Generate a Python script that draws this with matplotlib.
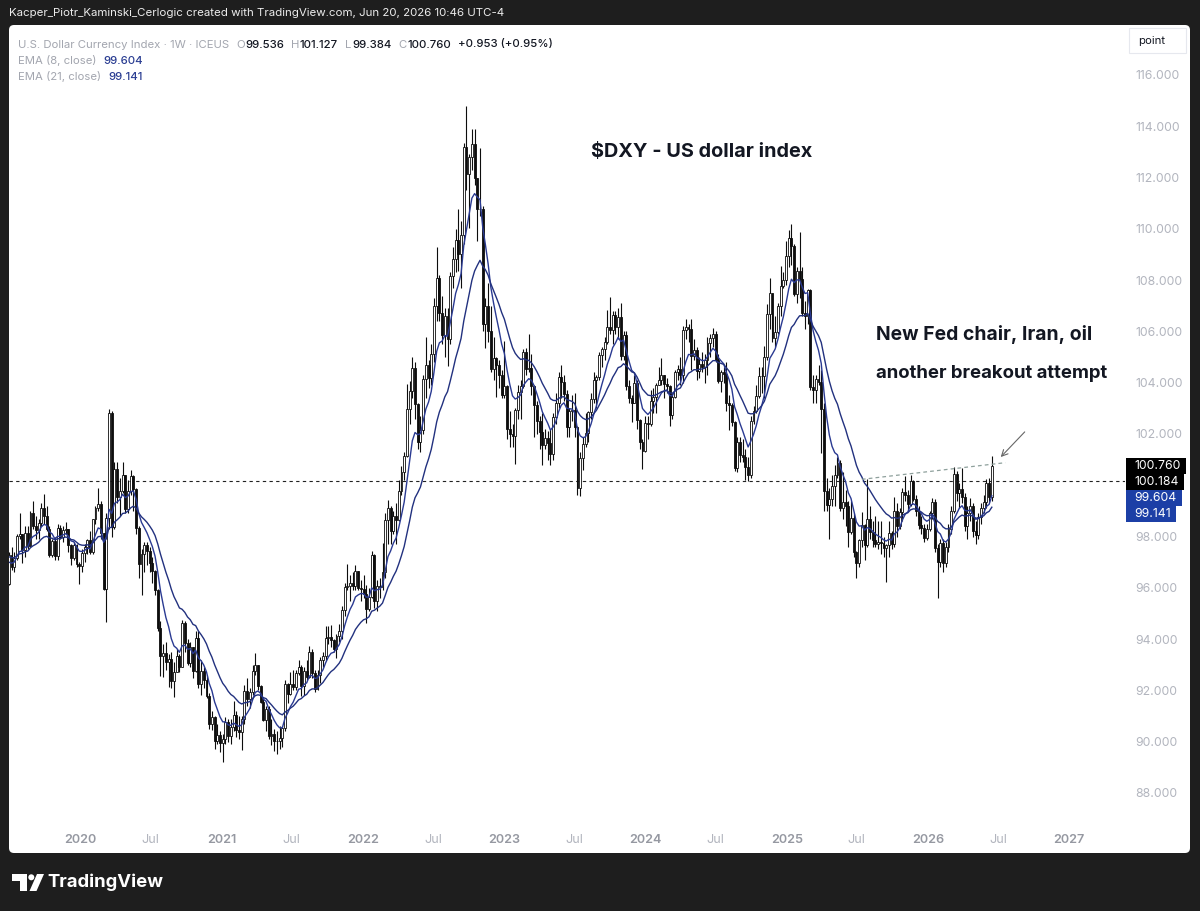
import matplotlib
matplotlib.use("Agg")
import matplotlib.pyplot as plt
import matplotlib.dates as mdates
from matplotlib.patches import FancyBboxPatch, Polygon, Circle, Rectangle
import numpy as np
import pandas as pd

FONT = ['Inter', 'DejaVu Sans']
plt.rcParams['font.family'] = FONT

# ------------------------------------------------------------------ data
first_week = "2019-04-01"   # weekly bars (Mondays), first bars lie left of the view

opens = [
    # 2019 (Apr-Jun, off-screen)
    97.27, 97.37, 96.98, 97.40, 98.01, 97.49, 97.33, 98.00, 97.62, 97.75, 96.53, 97.57, 96.20,
    # 2019 H2
    96.13, 97.29, 96.80, 97.15, 98.02, 98.09, 97.47, 98.13, 97.63, 98.92, 98.40, 98.27, 98.52, 99.12,
    98.81, 98.30, 97.29, 97.83, 97.23, 98.35, 97.99, 98.27, 98.28, 97.67, 97.18, 97.68, 96.92,
    # 2020
    96.84, 97.36, 97.61, 97.87, 97.39, 98.68, 99.12, 99.25, 98.13, 95.97, 98.73, 102.82, 98.37,
    100.65, 99.53, 99.77, 100.38, 99.06, 99.78, 100.37, 99.85, 98.34, 96.94, 97.33, 97.67, 97.43,
    96.97, 96.64, 95.92, 94.44, 93.35, 93.44, 93.09, 93.24, 92.37, 92.73, 93.33, 92.93, 94.64,
    93.84, 93.06, 93.69, 92.77, 94.03, 92.23, 92.75, 92.39, 91.79, 90.70, 90.98, 90.02, 90.24,
    # 2021
    89.94, 90.10, 90.77, 90.23, 90.58, 91.03, 90.44, 90.37, 90.88, 91.98, 91.67, 91.92, 92.77,
    92.98, 92.16, 91.56, 90.86, 91.28, 90.23, 90.31, 90.03, 90.04, 90.13, 90.55, 92.23, 91.85,
    92.23, 92.13, 92.68, 92.92, 92.18, 92.77, 92.52, 93.50, 92.66, 92.05, 92.58, 93.20, 93.33,
    94.04, 94.09, 93.96, 93.62, 94.12, 94.32, 95.13, 96.03, 96.08, 96.18, 96.07, 96.64, 96.00,
    # 2022
    95.97, 95.74, 95.17, 95.64, 97.27, 95.49, 96.07, 96.04, 96.61, 98.66, 99.13, 98.23, 98.79,
    98.64, 99.79, 100.50, 101.15, 102.96, 103.66, 104.56, 103.18, 101.67, 102.15, 104.15, 104.68,
    104.19, 105.13, 107.01, 108.07, 106.73, 105.85, 106.61, 105.69, 108.15, 108.82, 109.58, 109.00,
    109.76, 113.19, 112.12, 112.80, 113.31, 111.99, 110.77, 110.78, 106.29, 106.98, 106.03, 104.52,
    104.98, 104.69, 104.30,
    # 2023
    103.52, 103.88, 102.20, 101.99, 101.93, 102.92, 103.63, 103.87, 105.21, 104.52, 104.58, 103.86,
    103.12, 102.51, 102.09, 101.55, 101.83, 101.66, 101.22, 102.68, 103.20, 104.21, 104.03, 103.55,
    102.27, 102.91, 102.92, 102.27, 99.91, 101.07, 101.61, 102.02, 102.85, 103.38, 104.09, 104.24,
    105.07, 105.32, 105.58, 106.17, 106.04, 106.63, 106.16, 106.56, 105.03, 105.86, 103.87, 103.40,
    103.21, 104.00, 102.56, 101.70,
    # 2024
    101.33, 102.41, 102.40, 103.29, 103.43, 103.92, 104.12, 104.29, 103.94, 103.86, 102.73, 103.44,
    104.43, 104.55, 104.30, 106.04, 106.16, 106.09, 105.03, 105.29, 104.46, 104.73, 104.63, 104.89,
    105.54, 105.76, 105.90, 104.87, 104.08, 104.40, 104.32, 103.21, 103.14, 102.45, 100.68, 101.70,
    101.18, 101.11, 100.72, 100.38, 102.52, 102.90, 103.49, 104.26, 104.28, 104.99, 106.68, 107.50,
    105.74, 105.99, 106.99, 107.79, 108.00,
    # 2025
    108.93, 109.65, 109.35, 107.44, 108.37, 108.04, 106.71, 106.62, 107.61, 103.84, 103.72, 104.14,
    104.04, 102.98, 99.79, 99.23, 99.47, 99.97, 100.41, 100.88, 99.11, 99.33, 99.19, 98.18, 98.71,
    97.40, 96.97, 97.85, 98.46, 97.65, 98.69, 98.18, 97.85, 97.72, 97.77, 97.75, 97.55, 97.65,
    98.15, 97.72, 98.98, 98.40, 98.94, 99.75, 99.60, 99.28, 100.17, 99.45, 98.98, 98.45, 98.35, 97.95,
    # 2026
    98.30, 98.90, 99.35, 97.55, 97.00, 97.75, 96.95, 97.60, 98.30, 99.00, 100.45, 99.70, 99.85,
    99.55, 98.40, 98.90, 99.20, 98.20, 98.05, 98.75, 99.10, 99.35, 100.10, 99.536,
]

highs = [
    97.50, 97.50, 97.60, 98.32, 98.20, 97.80, 98.10, 98.37, 98.10, 97.90, 97.60, 97.70, 96.60,
    97.40, 97.58, 97.40, 98.10, 98.93, 98.10, 98.40, 98.40, 99.00, 99.37, 98.80, 98.70, 99.30, 99.67,
    99.20, 98.40, 97.90, 98.00, 98.50, 98.45, 98.40, 98.55, 98.30, 97.70, 97.80, 97.70, 97.00,
    97.50, 97.70, 97.90, 98.20, 98.70, 99.20, 99.91, 99.40, 98.15, 98.90, 102.99, 102.90, 100.90,
    100.90, 100.30, 100.90, 100.40, 100.20, 100.60, 100.40, 99.90, 98.40, 97.50, 97.80, 97.80, 97.60,
    97.20, 96.70, 95.95, 94.70, 93.80, 93.90, 93.40, 93.50, 93.10, 93.60, 93.40, 94.74, 94.70,
    94.00, 93.90, 93.70, 94.30, 94.30, 93.20, 92.90, 92.60, 91.90, 91.20, 91.00, 90.70, 90.40,
    90.30, 90.95, 90.90, 90.90, 91.60, 91.20, 91.00, 91.00, 92.20, 92.50, 92.10, 93.00, 93.44,
    93.00, 92.20, 91.70, 91.40, 91.40, 90.90, 90.50, 90.40, 90.60, 90.60, 92.40, 92.30, 92.70,
    92.80, 92.80, 93.20, 93.00, 92.90, 93.20, 93.73, 93.60, 92.80, 92.80, 93.30, 93.50, 94.50,
    94.50, 94.56, 94.00, 94.20, 94.60, 95.30, 96.20, 96.94, 96.50, 96.60, 96.90, 96.65, 96.30,
    96.50, 96.10, 96.00, 97.44, 97.30, 96.30, 96.40, 97.74, 98.90, 99.42, 99.20, 99.00, 99.30,
    100.20, 100.76, 101.30, 103.93, 104.07, 105.01, 104.80, 103.20, 102.70, 104.30, 105.79, 104.90,
    105.50, 107.30, 109.29, 108.20, 107.40, 106.90, 106.90, 108.30, 109.30, 110.00, 110.79, 110.30,
    113.33, 114.78, 112.90, 113.90, 113.90, 112.00, 113.15, 110.90, 107.30, 107.90, 107.00, 105.80,
    105.00, 104.90, 104.50,
    105.63, 103.90, 102.90, 102.40, 103.00, 103.90, 104.10, 105.30, 105.36, 105.88, 105.10, 103.90,
    103.30, 102.70, 102.80, 102.20, 102.10, 102.20, 102.80, 103.60, 104.40, 104.70, 104.30, 103.70,
    103.00, 103.50, 103.60, 102.30, 101.30, 101.90, 102.80, 102.90, 103.60, 104.40, 104.30, 105.20,
    105.40, 105.80, 106.84, 107.35, 106.80, 106.80, 106.90, 107.10, 106.00, 106.00, 104.10, 103.50,
    104.30, 104.10, 102.60, 101.80,
    102.70, 102.70, 103.70, 103.80, 104.00, 104.60, 104.97, 104.30, 104.20, 103.90, 103.60, 104.50,
    104.70, 105.00, 106.20, 106.50, 106.30, 106.50, 105.70, 105.40, 105.00, 105.20, 105.10, 105.80,
    105.90, 106.13, 106.00, 105.10, 104.50, 104.60, 104.80, 103.50, 103.20, 102.50, 101.90, 101.90,
    101.80, 101.40, 101.10, 102.70, 103.10, 103.90, 104.60, 104.60, 105.44, 107.07, 108.07, 107.50,
    106.60, 107.10, 108.54, 108.30, 109.54,
    109.97, 110.18, 109.40, 108.50, 109.88, 108.50, 107.20, 107.65, 107.65, 104.30, 104.30, 104.70,
    104.50, 103.20, 100.30, 99.90, 100.40, 100.80, 101.10, 101.00, 100.50, 99.80, 99.40, 99.40,
    98.90, 97.45, 97.90, 98.95, 98.50, 100.25, 99.20, 98.60, 98.80, 98.60, 98.60, 98.00, 97.70,
    98.60, 98.20, 99.56, 99.30, 99.10, 99.90, 100.36, 99.80, 100.40, 100.20, 99.60, 99.20, 98.80,
    98.50, 98.50,
    99.00, 99.50, 99.45, 97.70, 97.90, 97.90, 97.80, 98.50, 99.20, 100.70, 100.55, 100.10, 100.67,
    99.70, 99.20, 99.50, 99.30, 98.60, 98.90, 99.30, 99.60, 100.25, 100.30, 101.127,
]

lows = [
    96.75, 96.75, 96.70, 97.30, 97.20, 97.10, 97.10, 97.50, 97.50, 96.46, 96.50, 96.10, 95.84,
    96.10, 96.70, 96.60, 97.10, 97.90, 96.98, 97.20, 97.50, 97.60, 98.30, 97.90, 97.90, 98.40, 98.50,
    98.20, 97.20, 97.20, 97.10, 97.10, 97.90, 97.80, 98.10, 97.40, 96.90, 97.10, 96.80, 96.14,
    96.60, 97.00, 97.30, 97.30, 97.30, 98.50, 99.00, 97.90, 95.90, 94.65, 98.30, 98.00, 98.30,
    99.30, 98.80, 99.70, 98.90, 98.90, 99.60, 99.00, 98.10, 96.40, 95.71, 96.60, 96.90, 96.60,
    96.20, 95.70, 94.30, 92.55, 92.52, 92.80, 92.13, 92.10, 91.75, 92.70, 92.70, 92.90, 93.50,
    93.00, 92.90, 92.47, 92.70, 92.10, 91.80, 92.10, 91.70, 90.50, 90.47, 89.72, 89.90, 89.60,
    89.21, 89.90, 90.00, 89.90, 90.40, 90.20, 90.10, 89.68, 90.70, 91.40, 91.30, 91.80, 92.60,
    92.00, 91.50, 90.80, 90.42, 90.10, 89.86, 89.65, 89.53, 89.70, 89.80, 90.40, 91.50, 91.80,
    92.00, 92.00, 92.60, 91.78, 91.80, 92.40, 92.50, 92.50, 91.94, 92.00, 92.30, 92.90, 93.20,
    93.80, 93.70, 93.50, 93.28, 93.90, 94.00, 94.90, 95.90, 95.50, 95.90, 95.90, 95.90, 95.50,
    95.60, 94.63, 95.10, 95.60, 95.20, 95.10, 95.60, 95.90, 96.40, 97.70, 97.70, 98.10, 97.70,
    98.60, 99.60, 100.20, 101.10, 102.40, 103.40, 102.60, 101.40, 101.30, 102.00, 103.40, 103.80,
    103.90, 104.80, 106.40, 106.40, 105.50, 105.00, 104.64, 105.50, 107.70, 108.30, 108.35, 107.70,
    109.40, 111.50, 110.05, 112.30, 111.70, 109.53, 110.50, 106.00, 105.34, 105.60, 104.40, 104.10,
    103.44, 103.80, 103.40,
    103.40, 101.80, 101.50, 101.50, 100.82, 102.60, 102.60, 103.80, 104.30, 104.40, 103.50, 101.90,
    102.00, 101.40, 100.79, 101.40, 101.00, 100.80, 101.00, 102.40, 103.00, 103.40, 103.30, 101.90,
    101.90, 102.50, 101.90, 99.60, 99.57, 100.60, 101.50, 101.70, 102.60, 103.20, 103.00, 104.10,
    104.60, 104.90, 105.50, 105.90, 105.50, 105.90, 105.70, 104.90, 104.90, 103.70, 103.20, 102.46,
    103.20, 102.20, 101.40, 100.62,
    101.30, 101.80, 102.30, 102.80, 102.80, 103.90, 103.90, 103.40, 103.60, 102.30, 102.60, 103.40,
    104.10, 103.90, 104.00, 105.70, 105.60, 104.50, 104.90, 104.10, 104.20, 104.40, 103.99, 104.30,
    105.00, 105.40, 104.80, 104.00, 103.65, 104.00, 102.90, 102.16, 102.30, 100.54, 100.50, 100.90,
    100.90, 100.20, 100.16, 100.30, 102.40, 102.80, 103.40, 103.60, 103.40, 104.90, 106.10, 105.60,
    105.40, 105.90, 106.60, 107.70, 107.80,
    108.50, 108.60, 107.40, 107.10, 107.30, 106.60, 106.10, 106.30, 103.70, 103.20, 103.20, 103.90,
    101.26, 99.00, 99.00, 97.92, 99.20, 99.20, 100.30, 99.00, 98.70, 98.40, 97.60, 98.10, 97.20,
    96.38, 96.80, 97.60, 97.10, 97.60, 97.90, 97.60, 97.60, 97.50, 97.30, 97.20, 96.22, 97.20,
    97.50, 97.60, 98.00, 98.30, 98.60, 99.40, 99.00, 99.20, 99.40, 98.80, 98.30, 98.10, 97.80, 97.85,
    98.20, 98.70, 97.40, 95.60, 96.80, 96.60, 96.80, 97.40, 98.10, 98.90, 99.40, 99.10, 99.30,
    98.20, 97.90, 98.60, 98.00, 97.70, 97.90, 98.50, 98.90, 99.10, 99.30, 99.384,
]

closes = [
    97.37, 96.98, 97.40, 98.01, 97.49, 97.33, 98.00, 97.62, 97.75, 96.53, 97.57, 96.20, 96.13,
    97.29, 96.80, 97.15, 98.02, 98.09, 97.47, 98.13, 97.63, 98.92, 98.40, 98.27, 98.52, 99.12, 98.81,
    98.30, 97.29, 97.83, 97.23, 98.35, 97.99, 98.27, 98.28, 97.67, 97.18, 97.68, 96.92, 96.84,
    97.36, 97.61, 97.87, 97.39, 98.68, 99.12, 99.25, 98.13, 95.97, 98.73, 102.82, 98.37, 100.65,
    99.53, 99.77, 100.38, 99.06, 99.78, 100.37, 99.85, 98.34, 96.94, 97.33, 97.67, 97.43, 96.97,
    96.64, 95.92, 94.44, 93.35, 93.44, 93.09, 93.24, 92.37, 92.73, 93.33, 92.93, 94.64, 93.84,
    93.06, 93.69, 92.77, 94.03, 92.23, 92.75, 92.39, 91.79, 90.70, 90.98, 90.02, 90.24, 89.94,
    90.10, 90.77, 90.23, 90.58, 91.03, 90.44, 90.37, 90.88, 91.98, 91.67, 91.92, 92.77, 92.98,
    92.16, 91.56, 90.86, 91.28, 90.23, 90.31, 90.03, 90.04, 90.13, 90.55, 92.23, 91.85, 92.23,
    92.13, 92.68, 92.92, 92.18, 92.77, 92.52, 93.50, 92.66, 92.05, 92.58, 93.20, 93.33, 94.04,
    94.09, 93.96, 93.62, 94.12, 94.32, 95.13, 96.03, 96.08, 96.18, 96.07, 96.64, 96.00, 95.97,
    95.74, 95.17, 95.64, 97.27, 95.49, 96.07, 96.04, 96.61, 98.66, 99.13, 98.23, 98.79, 98.64,
    99.79, 100.50, 101.15, 102.96, 103.66, 104.56, 103.18, 101.67, 102.15, 104.15, 104.68, 104.19,
    105.13, 107.01, 108.07, 106.73, 105.85, 106.61, 105.69, 108.15, 108.82, 109.58, 109.00, 109.76,
    113.19, 112.12, 112.80, 113.31, 111.99, 110.77, 110.78, 106.29, 106.98, 106.03, 104.52, 104.98,
    104.69, 104.30, 103.52,
    103.88, 102.20, 101.99, 101.93, 102.92, 103.63, 103.87, 105.21, 104.52, 104.58, 103.86, 103.12,
    102.51, 102.09, 101.55, 101.83, 101.66, 101.22, 102.68, 103.20, 104.21, 104.03, 103.55, 102.27,
    102.91, 102.92, 102.27, 99.91, 101.07, 101.61, 102.02, 102.85, 103.38, 104.09, 104.24, 105.07,
    105.32, 105.58, 106.17, 106.04, 106.63, 106.16, 106.56, 105.03, 105.86, 103.87, 103.40, 103.21,
    104.00, 102.56, 101.70, 101.33,
    102.41, 102.40, 103.29, 103.43, 103.92, 104.12, 104.29, 103.94, 103.86, 102.73, 103.44, 104.43,
    104.55, 104.30, 106.04, 106.16, 106.09, 105.03, 105.29, 104.46, 104.73, 104.63, 104.89, 105.54,
    105.76, 105.90, 104.87, 104.08, 104.40, 104.32, 103.21, 103.14, 102.45, 100.68, 101.70, 101.18,
    101.11, 100.72, 100.38, 102.52, 102.90, 103.49, 104.26, 104.28, 104.99, 106.68, 107.50, 105.74,
    105.99, 106.99, 107.79, 108.00, 108.93,
    109.65, 109.35, 107.44, 108.37, 108.04, 106.71, 106.62, 107.61, 103.84, 103.72, 104.14, 104.04,
    102.98, 99.79, 99.23, 99.47, 99.97, 100.41, 100.88, 99.11, 99.33, 99.19, 98.18, 98.71, 97.40,
    96.97, 97.85, 98.46, 97.65, 98.69, 98.18, 97.85, 97.72, 97.77, 97.75, 97.55, 97.65, 98.15,
    97.72, 98.98, 98.40, 98.94, 99.75, 99.60, 99.28, 100.17, 99.45, 98.98, 98.45, 98.35, 97.95, 98.30,
    98.90, 99.35, 97.55, 97.00, 97.75, 96.95, 97.60, 98.30, 99.00, 100.45, 99.70, 99.85, 99.55,
    98.40, 98.90, 99.20, 98.20, 98.05, 98.75, 99.10, 99.35, 100.10, 99.536, 100.760,
]

hline_level = 100.184
trend_dates = ["2025-07-14", "2026-07-20"]
trend_prices = [100.23, 100.88]
arrow_dates = ["2026-09-08", "2026-07-08"]
arrow_prices = [102.08, 101.10]

price_ticks = [88, 90, 92, 94, 96, 98, 100, 102, 104, 106, 108, 110, 112, 114, 116]
year_ticks = ["2020-01-01", "2021-01-01", "2022-01-01", "2023-01-01", "2024-01-01",
              "2025-01-01", "2026-01-01", "2027-01-01"]
year_labels = ["2020", "2021", "2022", "2023", "2024", "2025", "2026", "2027"]
half_ticks = ["2020-07-01", "2021-07-01", "2022-07-01", "2023-07-01", "2024-07-01",
              "2025-07-01", "2026-07-01"]
half_labels = ["Jul"] * 7

last_close_label = 100.760
line_label = 100.184
ema_labels = [99.604, 99.141]
legend_ohlc = [("O", "99.536"), ("H", "101.127"), ("L", "99.384"), ("C", "100.760")]
legend_change = "+0.953 (+0.95%)"

# ------------------------------------------------------------------ figure
W, H = 1200, 911
fig = plt.figure(figsize=(W / 100, H / 100), dpi=100)
fig.patch.set_facecolor('#1e1e1e')

bg = fig.add_axes([0, 0, 1, 1], zorder=0)
bg.set_xlim(0, W); bg.set_ylim(H, 0); bg.axis('off')
bg.add_patch(FancyBboxPatch((9, 25), 1181, 828, boxstyle="round,pad=0,rounding_size=5",
                            fc='white', ec='none'))

AX_L, AX_R, AX_T, AX_B = 9, 1125, 25, 826
ax = fig.add_axes([AX_L / W, (H - AX_B) / H, (AX_R - AX_L) / W, (AX_B - AX_T) / H], zorder=1)
ax.set_facecolor('none')
for s in ax.spines.values():
    s.set_visible(False)

dates = pd.date_range(first_week, periods=len(closes), freq='W-MON')
x = mdates.date2num(dates)
o = np.array(opens); h = np.array(highs); l = np.array(lows); c = np.array(closes)
up = c >= o

ax.vlines(x, l, h, color='#0d0d0d', lw=0.8, zorder=2)
bw = 5.0
ax.bar(x[up], c[up] - o[up], bottom=o[up], width=bw, color='white', edgecolor='#0d0d0d',
       linewidth=0.6, zorder=3)
ax.bar(x[~up], o[~up] - c[~up], bottom=c[~up], width=bw, color='#0d0d0d', edgecolor='#0d0d0d',
       linewidth=0.6, zorder=3)

cs = pd.Series(c)
ema8 = cs.ewm(span=8, adjust=False).mean().values
ema21 = cs.ewm(span=21, adjust=False).mean().values
ax.plot(x, ema8, color='#2a3a92', lw=1.0, zorder=4)
ax.plot(x, ema21, color='#22317f', lw=1.0, zorder=4)

ax.axhline(hline_level, color='#222222', lw=0.8, ls=(0, (3, 3)), zorder=1)
ax.plot(mdates.date2num(pd.to_datetime(trend_dates)), trend_prices, color='#8ea09c',
        lw=0.9, ls=(0, (3, 2.5)), zorder=5)
ad = mdates.date2num(pd.to_datetime(arrow_dates))
ax.annotate('', xy=(ad[1], arrow_prices[1]), xytext=(ad[0], arrow_prices[0]),
            arrowprops=dict(arrowstyle='->', color='#666666', lw=0.8, mutation_scale=11,
                            shrinkA=0, shrinkB=0), zorder=6)

# scales: 2020-01-01 at px 80, 141.3 px / year ; 116 at py 75, 25.64 px / point
x2020 = mdates.date2num(pd.Timestamp("2020-01-01"))
ax.set_xlim(x2020 + (AX_L - 80) / 141.3 * 365.25, x2020 + (AX_R - 80) / 141.3 * 365.25)
ax.set_ylim(116 - (AX_B - 75) / 25.64, 116 + (75 - AX_T) / 25.64)

PRICE_FS = 8.8
ax.yaxis.tick_right()
ax.set_yticks(price_ticks)
# the 100.000 label sits under the last-price boxes on the scale, so it is left blank
ax.set_yticklabels(["" if abs(v - hline_level) < 1.0 else f"{v:.3f}" for v in price_ticks])
ax.tick_params(axis='y', length=0, pad=7.3, labelsize=PRICE_FS, labelcolor='#b2b5be')

xt = list(mdates.date2num(pd.to_datetime(year_ticks))) + list(mdates.date2num(pd.to_datetime(half_ticks)))
ax.set_xticks(xt)
ax.set_xticklabels(year_labels + half_labels)
ax.tick_params(axis='x', length=0, pad=6.0, labelsize=9.1)
for i, t in enumerate(ax.get_xticklabels()):
    if i < len(year_labels):
        t.set_color('#9598a1'); t.set_fontweight('semibold')
    else:
        t.set_color('#b2b5be')

# ------------------------------------------------------------------ overlay texts
top = fig.add_axes([0, 0, 1, 1], zorder=10)
top.set_xlim(0, W); top.set_ylim(H, 0); top.axis('off')
top.patch.set_alpha(0)
fig.canvas.draw()
renderer = fig.canvas.get_renderer()


def width_of(t):
    return t.get_window_extent(renderer).width


def fit(t, target):
    for _ in range(3):
        t.set_fontsize(t.get_fontsize() * target / width_of(t))


hdr = top.text(9, 13, "Kacper_Piotr_Kaminski_Cerlogic created with TradingView.com, Jun 20, 2026 10:46 UTC-4",
               color='#ededed', fontsize=9, ha='left', va='center')
fit(hdr, 495)

GRAY = '#a3a6af'
DARK = '#131722'
BLUE = '#2a3d92'
t0 = top.text(18, 47.5, "U.S. Dollar Currency Index · 1W · ICEUS", color=GRAY, fontsize=8,
              ha='left', va='baseline')
fit(t0, 211)
fs = t0.get_fontsize()


def chain(x0, y, pieces):
    xx = x0
    for txt, col, gap, wt in pieces:
        xx += gap
        t = top.text(xx, y, txt, color=col, fontsize=fs, ha='left', va='baseline', fontweight=wt)
        xx += width_of(t)


pieces = []
for lab, val in legend_ohlc:
    pieces.append((lab, GRAY, 7, 'normal'))
    pieces.append((val, DARK, 0.5, 'medium'))
pieces.append((legend_change, DARK, 7, 'medium'))
chain(18 + width_of(t0), 47.5, pieces)

e1 = top.text(18, 63.5, "EMA (8, close)", color=GRAY, fontsize=fs, ha='left', va='baseline')
chain(18 + width_of(e1), 63.5, [(f"{ema_labels[0]:.3f}", BLUE, 7, 'medium')])
e2 = top.text(18, 79.5, "EMA (21, close)", color=GRAY, fontsize=fs, ha='left', va='baseline')
chain(18 + width_of(e2), 79.5, [(f"{ema_labels[1]:.3f}", BLUE, 7, 'medium')])

title = top.text(591, 152, "$DXY - US dollar index", color=DARK, fontsize=14, fontweight='bold',
                 ha='left', va='center')
fit(title, 221)
n1 = top.text(876, 334, "New Fed chair, Iran, oil", color=DARK, fontsize=12, fontweight='bold',
              ha='left', va='center')
fit(n1, 216)
n2 = top.text(876, 373, "another breakout attempt", color=DARK, fontsize=12, fontweight='bold',
              ha='left', va='center')
fit(n2, 231)

# "point" box
top.add_patch(Rectangle((1129, 28), 57, 25, fc='white', ec='#e6e8ee', lw=0.8))
top.text(1152, 41, "point", color=DARK, fontsize=8.2, ha='center', va='center')


# price labels on the scale
def price_py(p):
    return H - ax.transData.transform((ax.get_xlim()[0], p))[1]


box_items = [(last_close_label, '#000000'), (line_label, '#000000'),
             (ema_labels[0], '#1c3fa6'), (ema_labels[1], '#1c3fa6')]
ys = [price_py(v) for v, _ in box_items]
for i in range(1, len(ys)):
    if ys[i] < ys[i - 1] + 16:
        ys[i] = ys[i - 1] + 16
for (v, col), yy in zip(box_items, ys):
    tt = top.text(1134, yy, f"{v:.3f}", color='white', fontsize=PRICE_FS, ha='left', va='center', zorder=3)
    wdt = width_of(tt)
    top.add_patch(Rectangle((1125.5, yy - 8), wdt + 14, 16, fc=col, ec='none', zorder=2))

# TradingView logo
LOGO = '#ffffff'
top.add_patch(Polygon([(11.5, 874), (27, 874), (27, 891), (20, 891), (20, 880.5), (11.5, 880.5)],
                      closed=True, fc=LOGO, ec='none'))
top.add_patch(Circle((31.3, 877.3), 3.0, fc=LOGO, ec='none'))
top.add_patch(Polygon([(29.5, 891), (36.5, 891), (44, 874), (37, 874)], closed=True, fc=LOGO, ec='none'))
tv = top.text(47, 882.5, "TradingView", color=LOGO, fontsize=14, fontweight='bold', ha='left', va='center')
fit(tv, 116)

fig.savefig("out.png", dpi=100, facecolor=fig.get_facecolor())
